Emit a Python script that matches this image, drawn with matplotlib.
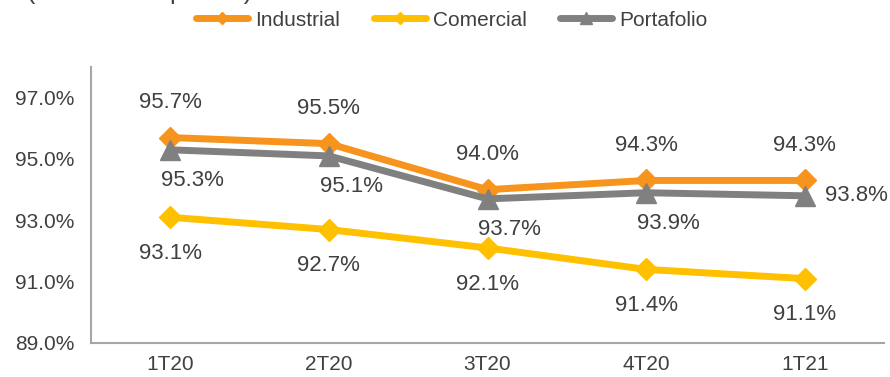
import matplotlib.pyplot as plt

plt.rcParams['font.family'] = ['Liberation Sans', 'DejaVu Sans']

trimestres = ['1T20', '2T20', '3T20', '4T20', '1T21']
industrial = [95.7, 95.5, 94.0, 94.3, 94.3]
comercial = [93.1, 92.7, 92.1, 91.4, 91.1]
portafolio = [95.3, 95.1, 93.7, 93.9, 93.8]

c_ind = '#F7941D'
c_com = '#FFC000'
c_por = '#808080'
txt = '#404040'

fig = plt.figure(figsize=(8.9, 3.77), dpi=100)
ax = fig.add_axes([91 / 890, 34 / 377, 793 / 890, 276 / 377])

x = range(len(trimestres))
ax.plot(x, industrial, color=c_ind, lw=5, marker='D', ms=11, label='Industrial', zorder=3)
ax.plot(x, comercial, color=c_com, lw=5, marker='D', ms=11, label='Comercial', zorder=3)
ax.plot(x, portafolio, color=c_por, lw=5, marker='^', ms=14, label='Portafolio', zorder=4)

for i, v in enumerate(industrial):
    ax.annotate(f'{v:.1f}%', (i, v), xytext=(0, 25), textcoords='offset points',
                ha='center', va='center', fontsize=16, color=txt)
for i, v in enumerate(comercial):
    ax.annotate(f'{v:.1f}%', (i, v), xytext=(0, -26), textcoords='offset points',
                ha='center', va='center', fontsize=16, color=txt)
for i, v in enumerate(portafolio):
    if i == len(portafolio) - 1:
        off = (37, 0)
    else:
        off = (16, -22)
    ax.annotate(f'{v:.1f}%', (i, v), xytext=off, textcoords='offset points',
                ha='center', va='center', fontsize=16, color=txt)

ax.set_xlim(-0.5, 4.5)
ax.set_ylim(89, 98)
ax.set_yticks([89, 91, 93, 95, 97])
ax.set_yticklabels([f'{t:.1f}%' for t in [89, 91, 93, 95, 97]])
ax.set_xticks(list(x))
ax.set_xticklabels(trimestres)
ax.tick_params(length=0, labelsize=15, labelcolor=txt, pad=12)
ax.tick_params(axis='x', pad=9)
for s in ['top', 'right']:
    ax.spines[s].set_visible(False)
for s in ['left', 'bottom']:
    ax.spines[s].set_color('#A6A6A6')
    ax.spines[s].set_linewidth(1.5)

leg = fig.legend(loc='center', bbox_to_anchor=(452 / 890, 1 - 20 / 377), ncol=3, frameon=False,
                 fontsize=15, handlelength=2.5, columnspacing=1.6, handletextpad=0.35,
                 markerscale=0.6, labelcolor=txt)
for h in leg.get_lines():
    h.set_solid_capstyle('round')

fig.text(27 / 890, 1 + 8 / 377, '(Tasa de ocupación)', fontsize=18, color=txt,
         va='center', ha='left')

fig.savefig('out.png', dpi=100)
